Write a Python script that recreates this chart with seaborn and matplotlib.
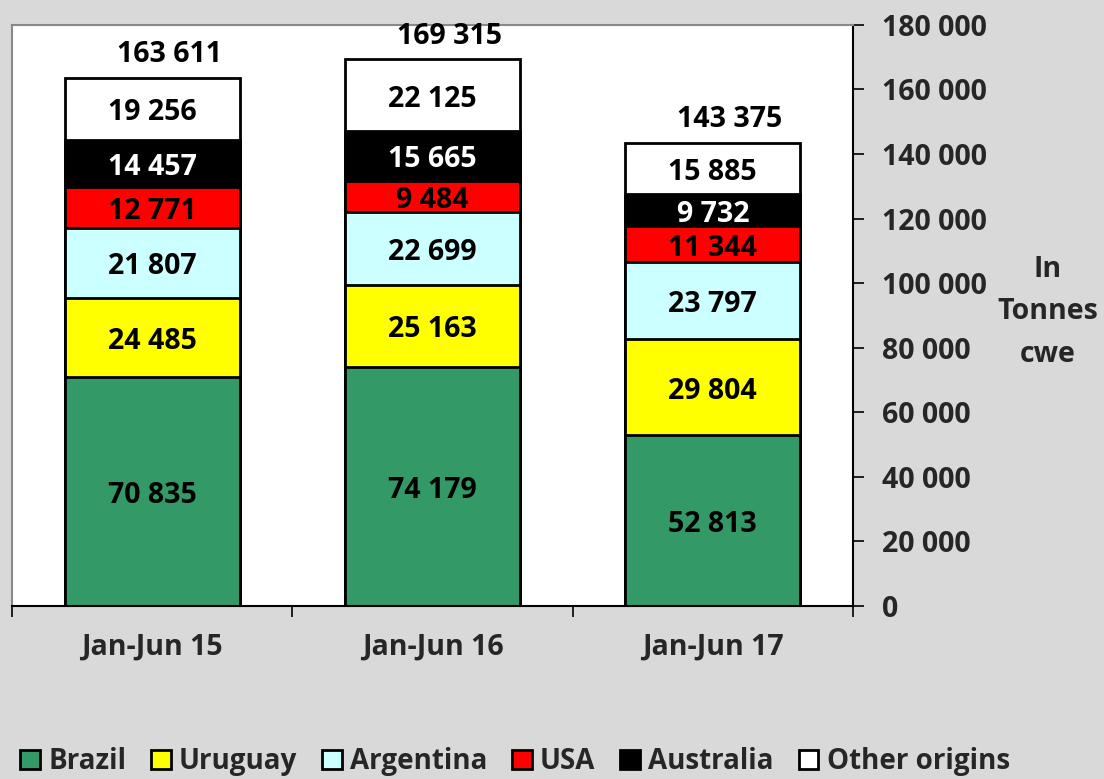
import numpy as np
import pandas as pd
import matplotlib
matplotlib.use('Agg')
import matplotlib.pyplot as plt
import seaborn as sns
from matplotlib.patches import Patch
from matplotlib.ticker import FuncFormatter, FixedLocator

# ── Data ────────────────────────────────────────────────────────────
periods = ['Jan-Jun 15', 'Jan-Jun 16', 'Jan-Jun 17']
origins = ['Brazil', 'Uruguay', 'Argentina', 'USA', 'Australia', 'Other origins']
brazil = [70835, 74179, 52813]
uruguay = [24485, 25163, 29804]
argentina = [21807, 22699, 23797]
usa = [12771, 9484, 11344]
australia = [14457, 15665, 9732]
other = [19256, 22125, 15885]

colors = ['#339966', '#ffff00', '#ccffff', '#ff0000', '#000000', '#ffffff']
text_colors = ['black', 'black', 'black', 'black', 'white', 'black']

sns.set_theme(style='white')
plt.rcParams['font.family'] = ['Open Sans', 'DejaVu Sans']
W = 'bold'
plt.rcParams['font.weight'] = W
BG = '#d9d9d9'
FS = 20.5

layers = np.array([brazil, uruguay, argentina, usa, australia, other])
cum = layers.cumsum(axis=0)
totals = cum[-1]

fig = plt.figure(figsize=(11.04, 7.79), dpi=100, facecolor=BG)
ax = fig.add_axes([0.0109, 0.2221, 0.7617, 0.7459])
ax.set_facecolor('white')

# stacked bars: draw cumulative heights from the top layer down
for i in range(len(origins) - 1, -1, -1):
    df = pd.DataFrame({'period': periods, 'value': cum[i]})
    sns.barplot(data=df, x='period', y='value', color=colors[i], width=0.625,
                edgecolor='black', linewidth=2, saturation=1, ax=ax, zorder=2)

# segment labels (sit a touch below the segment centre, like the original)
for j in range(len(periods)):
    for i in range(len(origins)):
        mid = cum[i, j] - layers[i, j] / 2 - 1200
        ax.text(j, mid, f'{layers[i, j]:,}'.replace(',', ' '), ha='center', va='center',
                fontsize=FS, fontweight=W, color=text_colors[i], zorder=5)
    ax.text(j + 0.06, totals[j] + 7200, f'{totals[j]:,}'.replace(',', ' '), ha='center',
            va='center', fontsize=FS, fontweight=W, color='black', zorder=5)

ax.set_xlim(-0.5, 2.5)
ax.set_ylim(0, 180000)
ax.set_xlabel('')
ax.set_ylabel('')

# right-hand y axis
ax.yaxis.tick_right()
ax.set_yticks(np.arange(0, 180001, 20000))
ax.yaxis.set_major_formatter(FuncFormatter(lambda v, p: f'{int(v):,}'.replace(',', ' ')))
ax.tick_params(axis='y', which='major', direction='out', length=8, width=1.2,
               color='black', labelsize=FS, pad=13, right=True, left=False)

# x axis: category labels, tick marks at category boundaries
ax.tick_params(axis='x', which='major', length=0, labelsize=FS, pad=19)
ax.xaxis.set_minor_locator(FixedLocator([-0.5, 0.5, 1.5, 2.5]))
ax.tick_params(axis='x', which='minor', direction='out', length=8, width=1.2,
               color='black', bottom=True)
for lab in ax.get_xticklabels() + ax.get_yticklabels():
    lab.set_fontweight(W)

for side in ['top', 'left']:
    ax.spines[side].set_color('#888888')
    ax.spines[side].set_linewidth(1.5)
for side in ['bottom', 'right']:
    ax.spines[side].set_color('black')
    ax.spines[side].set_linewidth(1.5)

fig.text(0.949, 0.5995, 'In\nTonnes\ncwe', ha='center', va='center',
         fontsize=FS, fontweight=W, linespacing=1.6)

handles = [Patch(facecolor=c, edgecolor='black', linewidth=2) for c in colors]
fig.legend(handles, origins, loc='center', bbox_to_anchor=(0.4665, 0.022), ncol=6,
           frameon=False, handlelength=0.7, handleheight=0.7,
           handletextpad=0.3, columnspacing=0.9, prop={'weight': W, 'size': 20})

fig.savefig('out.png', dpi=100, facecolor=BG)
